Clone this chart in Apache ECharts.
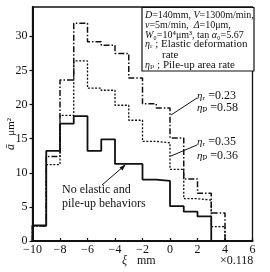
<!DOCTYPE html>
<html><head><meta charset="utf-8">
<script src="https://cdn.jsdelivr.net/npm/echarts@6/dist/echarts.min.js"></script>
<style>html,body{margin:0;padding:0;background:#fff}#c{width:270px;height:272px}</style>
</head><body><div id="c"></div>
<script>
// bin edges (xi, ×0.118 mm)
const binEdges = [-10,-9,-8,-7,-6,-5,-4,-3,-2,-1,0,1,2,3,4];
// a-bar (um^2) per bin
const noElastic = [2.3, 13.2, 17.2, 18.3, 13.2, 14.9, 11.3, 11.3, 9.0, 8.8, 5.1, 4.3, 3.6, 0];
const eta023   = [2.2, 12.4, 23.6, 31.9, 29.2, 28.7, 27.5, 23.9, 20.1, 19.5, 15.1, 9.1, 7.0, 4.1];
const eta035   = [2.2, 11.2, 18.4, 26.4, 22.4, 22.1, 19.9, 17.7, 14.6, 14.4, 10.5, 6.2, 6.0, 2.1];
const xTicks = [-10,-8,-6,-4,-2,0,2,4,6];
const yTicks = [0,5,10,15,20,25,30];

function steps(vals){
  const pts=[[binEdges[0],0]];
  for(let i=0;i<vals.length;i++){
    pts.push([binEdges[i],vals[i]]);
    pts.push([binEdges[i+1],vals[i]]);
  }
  pts.push([binEdges[binEdges.length-1],0]);
  return pts;
}
const SERIF='"Liberation Serif","DejaVu Serif",serif';
const chart=echarts.init(document.getElementById('c'),null,{renderer:'canvas'});
const lineSeries=(name,vals,type,w)=>({name,type:'line',data:steps(vals),symbol:'none',
  lineStyle:{color:'#111',width:w,type:type},silent:true,animation:false,z:3});
const it={fontStyle:'italic',fontFamily:SERIF,fontSize:10};
const it2={fontStyle:'italic',fontFamily:SERIF,fontSize:11};
chart.setOption({
  animation:false,
  backgroundColor:'#fff',
  grid:{left:32.5,right:17.5,top:7,bottom:31,show:true,borderColor:'#111',borderWidth:1.3,backgroundColor:'transparent'},
  xAxis:{type:'value',min:-10,max:6,interval:2,
    axisLine:{show:true,onZero:false,lineStyle:{color:'#111',width:2}},
    axisTick:{show:true,inside:true,length:3,lineStyle:{color:'#111',width:1.2}},
    splitLine:{show:false},
    axisLabel:{color:'#111',fontFamily:SERIF,fontSize:12,margin:3,
      formatter:v=>xTicks.includes(v)?String(v).replace('-','−'):''}},
  yAxis:{type:'value',min:0,max:34.3,interval:5,
    axisLine:{show:true,onZero:false,lineStyle:{color:'#111',width:2}},
    axisTick:{show:true,inside:false,length:3,lineStyle:{color:'#111',width:1.2}},
    splitLine:{show:false},
    axisLabel:{color:'#111',fontFamily:SERIF,fontSize:12,margin:5,showMaxLabel:false,
      formatter:v=>yTicks.includes(v)?String(v):''}},
  series:[
    lineSeries('no',noElastic,'solid',1.8),
    lineSeries('e023',eta023,[6,2,1.5,2],1.5),
    lineSeries('e035',eta035,[2,1.6],1.3)
  ],
  graphic:[
    {type:'rect',shape:{x:142,y:7.5,width:112,height:63.5},style:{fill:'#fff',stroke:'#111',lineWidth:1.2},z:10},
    {type:'text',x:145,y:10,z:11,style:{text:'{i|D}=140mm, {i|V}=1300m/min,',font:'10px '+SERIF,fill:'#111',rich:{i:it}}},
    {type:'text',x:145,y:20,z:11,style:{text:'{i|v}=5m/min,  {i|Δ}=10μm,',font:'10px '+SERIF,fill:'#111',rich:{i:it}}},
    {type:'text',x:145,y:30,z:11,style:{text:'{i|W}₀=10⁴μm³, tan {i|α}₀=5.67',font:'10px '+SERIF,fill:'#111',rich:{i:it}}},
    {type:'text',x:145,y:39,z:11,style:{text:'{i|η}ᵣ ; Elastic deformation',font:'11px '+SERIF,fill:'#111',rich:{i:it}}},
    {type:'text',x:162,y:49.5,z:11,style:{text:'rate',font:'11px '+SERIF,fill:'#111'}},
    {type:'text',x:145,y:59.5,z:11,style:{text:'{i|η}ₚ ; Pile-up area rate',font:'11px '+SERIF,fill:'#111',rich:{i:it}}},
    // eta annotations
    {type:'text',x:197,y:90,z:11,style:{text:'{i|η}ᵣ =0.23',font:'12px '+SERIF,fill:'#111',rich:{i:it2}}},
    {type:'text',x:197,y:102,z:11,style:{text:'{i|η}ₚ =0.58',font:'12px '+SERIF,fill:'#111',rich:{i:it2}}},
    {type:'line',shape:{x1:197,y1:98,x2:171,y2:115},style:{stroke:'#111',lineWidth:1},z:11},
    {type:'text',x:197,y:136,z:11,style:{text:'{i|η}ᵣ =0.35',font:'12px '+SERIF,fill:'#111',rich:{i:it2}}},
    {type:'text',x:197,y:150,z:11,style:{text:'{i|η}ₚ =0.36',font:'12px '+SERIF,fill:'#111',rich:{i:it2}}},
    {type:'line',shape:{x1:197,y1:145,x2:171,y2:156},style:{stroke:'#111',lineWidth:1},z:11},
    // no elastic annotation
    {type:'text',x:62,y:184,z:11,style:{text:'No elastic and',font:'12px '+SERIF,fill:'#111'}},
    {type:'text',x:62,y:198,z:11,style:{text:'pile-up behaviors',font:'12px '+SERIF,fill:'#111'}},
    {type:'line',shape:{x1:102,y1:185,x2:124,y2:166},style:{stroke:'#111',lineWidth:1},z:11},
    {type:'polygon',shape:{points:[[126,164],[119.5,167.5],[122.5,170.5]]},style:{fill:'#111'},z:11},
    // axis names
    {type:'text',x:122,y:255,z:11,style:{text:'ξ',font:'italic 12px '+SERIF,fill:'#111'}},
    {type:'text',x:137,y:255,z:11,style:{text:'mm',font:'12px '+SERIF,fill:'#111'}},
    {type:'text',x:220,y:255,z:11,style:{text:'×0.118',font:'12px '+SERIF,fill:'#111'}},
    {type:'text',x:5,y:150,rotation:Math.PI/2,z:11,style:{text:'{i|ā}   μm²',font:'11px '+SERIF,fill:'#111',
      rich:{i:{fontStyle:'italic',fontFamily:SERIF,fontSize:12}}}}
  ]
});
</script></body></html>
